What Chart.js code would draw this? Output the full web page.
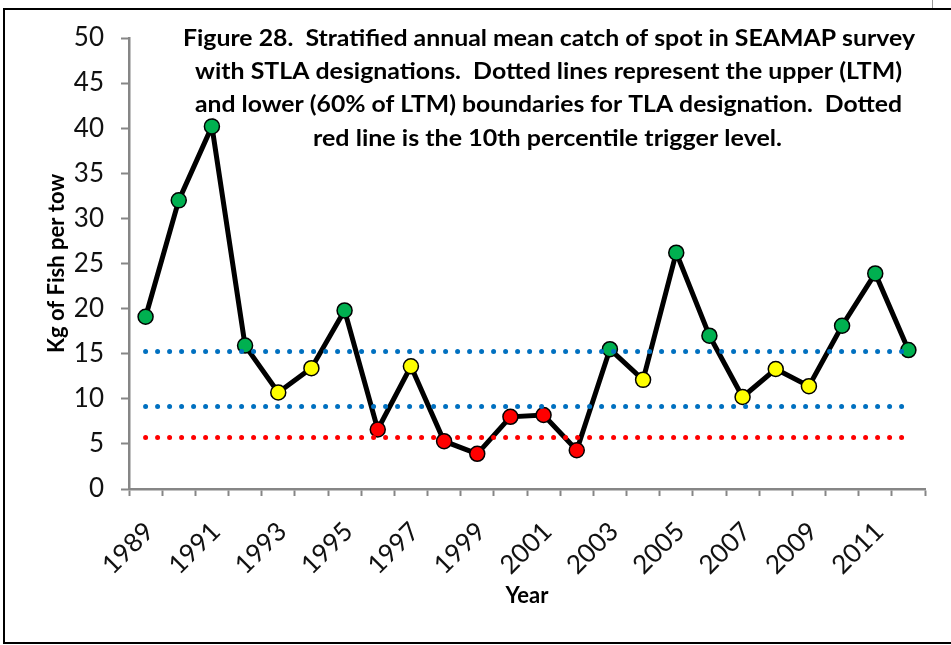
<!DOCTYPE html>
<html>
<head>
<meta charset="utf-8">
<script src="https://cdn.jsdelivr.net/npm/chart.js@4.4.1/dist/chart.umd.min.js"></script>
<style>
    html, body { margin: 0; padding: 0; background: #fff; }
    canvas { display: block; }
</style>
</head>
<body>
<canvas id="chart1" width="951" height="645"></canvas>
<script>
// data
const years = ['1989', '1990', '1991', '1992', '1993', '1994', '1995', '1996', '1997', '1998', '1999', '2000',
    '2001', '2002', '2003', '2004', '2005', '2006', '2007', '2008', '2009', '2010', '2011', '2012'];
const catchKg = [19.1, 32.0, 40.2, 15.9, 10.7, 13.4, 19.8, 6.6, 13.6, 5.3, 3.9, 8.0,
    8.2, 4.3, 15.5, 12.1, 26.2, 17.0, 10.2, 13.3, 11.4, 18.1, 23.9, 15.4];
const upperLTM = 15.25;     // LTM
const lowerLTM = 9.15;      // 60% of LTM
const trigger10th = 5.7;    // 10th percentile trigger

const titleLines = [
    'Figure 28.  Stratified annual mean catch of spot in SEAMAP survey',
    'with STLA designations.  Dotted lines represent the upper (LTM)',
    'and lower (60% of LTM) boundaries for TLA designation.  Dotted',
    'red line is the 10th percentile trigger level.'
];

function tlaColor(v) {
    if (v >= upperLTM) return '#00B050';
    if (v >= lowerLTM) return '#FFFF00';
    return '#FF0000';
}

function level(v) {
    return years.map(() => v);
}

const frame = {
    id: 'frame',
    afterDraw(chart) {
        const ctx = chart.ctx;
        ctx.save();
        // outer border
        ctx.strokeStyle = '#000';
        ctx.lineWidth = 2;
        ctx.beginPath();
        ctx.moveTo(951, 9);
        ctx.lineTo(4, 9);
        ctx.lineTo(4, 643);
        ctx.lineTo(951, 643);
        ctx.stroke();
        ctx.strokeStyle = '#999';
        ctx.lineWidth = 1;
        ctx.beginPath();
        ctx.moveTo(932.5, 0);
        ctx.lineTo(932.5, 8);
        ctx.stroke();

        // title text box, stretched a bit to the width of the original lines
        const lefts = [183, 195, 195, 313];
        const widths = [732, 707, 707, 469];
        const baselines = [45.7, 79, 112.3, 145.6];
        ctx.fillStyle = '#000';
        ctx.font = 'bold 23px Lato';
        ctx.textAlign = 'left';
        ctx.textBaseline = 'alphabetic';
        titleLines.forEach((t, i) => {
            const w = ctx.measureText(t).width;
            ctx.save();
            ctx.translate(lefts[i], baselines[i]);
            ctx.scale(widths[i] / w, 1);
            ctx.fillText(t, 0, 0);
            ctx.restore();
        });
        ctx.restore();
    }
};

const dotted = {
    fill: false,
    borderWidth: 5,
    borderDash: [0, 12],
    borderCapStyle: 'round',
    pointRadius: 0,
    tension: 0
};

const Chart1 = new Chart(document.getElementById('chart1'), {
    type: 'line',
    data: {
        labels: years,
        datasets: [
            Object.assign({ label: 'Upper', data: level(upperLTM), borderColor: '#0070C0' }, dotted),
            Object.assign({ label: 'Lower', data: level(lowerLTM), borderColor: '#0070C0' }, dotted),
            Object.assign({ label: 'Trigger', data: level(trigger10th), borderColor: '#FF0000' }, dotted),
            {
                label: 'Kg of Fish per tow',
                data: catchKg,
                borderColor: '#000',
                borderWidth: 5,
                pointRadius: 7.5,
                pointBorderWidth: 1.5,
                pointBorderColor: '#000',
                pointBackgroundColor: catchKg.map(tlaColor),
                tension: 0
            }
        ]
    },
    options: {
        responsive: false,
        animation: false,
        layout: {
            padding: { top: 38, right: 25, left: 0, bottom: 0 }
        },
        plugins: {
            legend: { display: false },
            tooltip: { enabled: false }
        },
        scales: {
            x: {
                offset: true,
                afterFit: (scale) => { scale.height = 156; },
                grid: {
                    offset: true,
                    drawOnChartArea: false,
                    drawTicks: true,
                    tickLength: 7,
                    tickWidth: 2,
                    color: '#868686'
                },
                border: { color: '#868686', width: 2.5 },
                ticks: {
                    autoSkip: false,
                    minRotation: 45,
                    maxRotation: 45,
                    padding: 20,
                    labelOffset: 4,
                    color: '#111',
                    font: { family: 'Lato', size: 26 },
                    callback: function (value, index) {
                        return index % 2 === 0 ? this.getLabelForValue(value) : '';
                    }
                },
                title: {
                    display: true,
                    text: 'Year',
                    color: '#000',
                    font: { family: 'Lato', size: 22, weight: 'bold' },
                    padding: { top: 0, bottom: 36 }
                }
            },
            y: {
                min: 0,
                max: 50,
                afterFit: (scale) => { scale.width = 129; },
                grid: {
                    drawOnChartArea: false,
                    drawTicks: true,
                    tickLength: 8,
                    tickWidth: 2,
                    color: '#868686'
                },
                border: { color: '#868686', width: 2.5 },
                ticks: {
                    stepSize: 5,
                    padding: 17,
                    color: '#111',
                    font: { family: 'Lato', size: 26 }
                },
                title: {
                    display: true,
                    text: 'Kg of Fish per tow',
                    color: '#000',
                    font: { family: 'Lato', size: 22, weight: 'bold' },
                    padding: { top: 44, bottom: 0 }
                }
            }
        }
    },
    plugins: [frame]
});
</script>
</body>
</html>
